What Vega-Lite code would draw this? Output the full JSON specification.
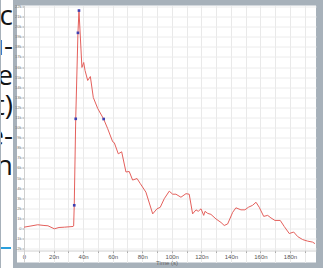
{
  "$schema": "https://vega.github.io/schema/vega-lite/v6.json",
  "background": "#a7b1ba",
  "padding": {"left": 0, "top": 0, "right": 8, "bottom": 0},
  "spacing": 4,
  "bounds": "flush",
  "center": true,
  "config": {"view": {"stroke": null}, "font": "Liberation Sans"},
  "datasets": {
    "words": [
      {"line": 1, "text": "c"},
      {"line": 2, "text": "u-"},
      {"line": 3, "text": "e"},
      {"line": 4, "text": "t)"},
      {"line": 5, "text": "e-"},
      {"line": 6, "text": "n"}
    ],
    "trace": [
      {"t": 0, "v": 0.13}, {"t": 4.7, "v": 0.25}, {"t": 9.3, "v": 0.37}, {"t": 13.5, "v": 0.3},
      {"t": 16.2, "v": 0.27}, {"t": 20.5, "v": -0.03}, {"t": 23.7, "v": 0.1}, {"t": 27.3, "v": 0.13},
      {"t": 33.2, "v": 0.2}, {"t": 33.6, "v": 0.25}, {"t": 34.0, "v": 2.3}, {"t": 35.0, "v": 10.87},
      {"t": 36.5, "v": 19.39}, {"t": 37.2, "v": 21.6}, {"t": 39.2, "v": 15.96}, {"t": 40.4, "v": 16.45},
      {"t": 41.3, "v": 15.66}, {"t": 43.1, "v": 14.67}, {"t": 44.9, "v": 15.06}, {"t": 46.9, "v": 12.98},
      {"t": 49.9, "v": 11.89}, {"t": 53.9, "v": 10.85}, {"t": 56.6, "v": 9.9}, {"t": 60.0, "v": 8.6},
      {"t": 61.1, "v": 8.5}, {"t": 63.8, "v": 7.4}, {"t": 66.1, "v": 7.6}, {"t": 69.0, "v": 5.6},
      {"t": 71.2, "v": 5.65}, {"t": 73.5, "v": 4.8}, {"t": 76.5, "v": 4.95}, {"t": 78.7, "v": 4.45},
      {"t": 82.5, "v": 3.6}, {"t": 87.1, "v": 1.45}, {"t": 90.0, "v": 1.95}, {"t": 92.2, "v": 2.1},
      {"t": 94.9, "v": 2.95}, {"t": 98.3, "v": 3.7}, {"t": 100.6, "v": 3.4}, {"t": 102.8, "v": 3.4},
      {"t": 106.2, "v": 3.1}, {"t": 109.6, "v": 3.45}, {"t": 111.8, "v": 3.4}, {"t": 114.1, "v": 1.45},
      {"t": 116.4, "v": 1.85}, {"t": 117.9, "v": 1.7}, {"t": 119.8, "v": 1.95}, {"t": 121.6, "v": 1.3},
      {"t": 122.5, "v": 1.7}, {"t": 124.3, "v": 1.5}, {"t": 126.5, "v": 1.4}, {"t": 129.9, "v": 0.95},
      {"t": 133.3, "v": 0.6}, {"t": 135.5, "v": 0.3}, {"t": 137.8, "v": 0.45}, {"t": 141.2, "v": 1.6},
      {"t": 143.4, "v": 2.05}, {"t": 146.8, "v": 1.85}, {"t": 149.5, "v": 1.85}, {"t": 151.8, "v": 2.1},
      {"t": 154.7, "v": 2.3}, {"t": 157.0, "v": 2.6}, {"t": 159.2, "v": 2.1}, {"t": 162.2, "v": 1.2},
      {"t": 164.9, "v": 1.3}, {"t": 167.1, "v": 1.05}, {"t": 169.8, "v": 0.8}, {"t": 173.4, "v": 0.8},
      {"t": 176.1, "v": 0.2}, {"t": 179.5, "v": -0.5}, {"t": 182.5, "v": -0.35}, {"t": 185.2, "v": -0.8},
      {"t": 188.6, "v": -1.1}, {"t": 191.9, "v": -1.25}, {"t": 195.3, "v": -1.35}, {"t": 196.9, "v": -1.5}
    ],
    "markers": [
      {"t": 34.0, "v": 2.3}, {"t": 35.0, "v": 10.87}, {"t": 36.5, "v": 19.39},
      {"t": 37.2, "v": 21.6}, {"t": 53.9, "v": 10.85}
    ]
  },
  "hconcat": [
    {
      "width": 12,
      "height": 268,
      "view": {"fill": "white", "stroke": null},
      "layer": [
        {
          "data": {"name": "words"},
          "mark": {"type": "text", "align": "right", "baseline": "alphabetic", "fontSize": 28, "font": "Open Sans", "color": "#151515", "clip": true},
          "encoding": {
            "x": {"datum": 12, "type": "quantitative", "scale": {"domain": [0, 12]}, "axis": null},
            "y": {"field": "line", "type": "quantitative", "scale": {"domain": [0.16667, 9.1], "reverse": true, "zero": false, "nice": false}, "axis": null},
            "text": {"field": "text"}
          }
        },
        {
          "data": {"values": [{}]},
          "mark": {"type": "rule", "color": "#2a9fdc", "strokeWidth": 2},
          "encoding": {
            "x": {"datum": 0, "type": "quantitative"},
            "x2": {"datum": 10},
            "y": {"datum": 8.4333, "type": "quantitative"}
          }
        }
      ]
    },
    {
      "width": 299,
      "height": 257,
      "view": {"fill": "white", "stroke": null},
      "encoding": {
        "x": {
          "field": "t", "type": "quantitative",
          "scale": {"domain": [-4.74, 197.6], "nice": false, "zero": false},
          "axis": {
            "values": [0, 10, 20, 30, 40, 50, 60, 70, 80, 90, 100, 110, 120, 130, 140, 150, 160, 170, 180, 190],
            "labelExpr": "datum.value % 20 === 0 ? (datum.value === 0 ? '0' : datum.value + 'n') : ''",
            "offset": -12, "title": "Time (s)", "titleFontSize": 6, "titleFontWeight": "normal", "titleColor": "#666", "titlePadding": 0,
            "grid": true, "gridColor": "#e9e9e9", "tickSize": 2, "tickColor": "#aaa", "domainColor": "#d0d0d0",
            "labelFontSize": 6, "labelColor": "#555", "labelPadding": 1
          }
        },
        "y": {
          "field": "v", "type": "quantitative",
          "scale": {"domain": [-3.37, 22.1], "nice": false, "zero": false},
          "axis": {
            "values": [-2, -1, 0, 1, 2, 3, 4, 5, 6, 7, 8, 9, 10, 11, 12, 13, 14, 15, 16, 17, 18, 19, 20, 21, 22],
            "labelExpr": "datum.value === 0 ? '0' : datum.value + 'k'",
            "offset": -7, "title": null, "grid": true, "gridColor": "#ececec",
            "tickSize": 2, "tickColor": "#aaa", "domainColor": "#d0d0d0",
            "labelFontSize": 4, "labelColor": "#777", "labelPadding": 1
          }
        }
      },
      "layer": [
        {
          "data": {"name": "trace"},
          "mark": {"type": "line", "color": "#e4605c", "strokeWidth": 1, "clip": true}
        },
        {
          "data": {"name": "markers"},
          "mark": {"type": "point", "shape": "square", "filled": true, "size": 7, "color": "#3f40b0", "opacity": 1}
        }
      ]
    }
  ]
}
